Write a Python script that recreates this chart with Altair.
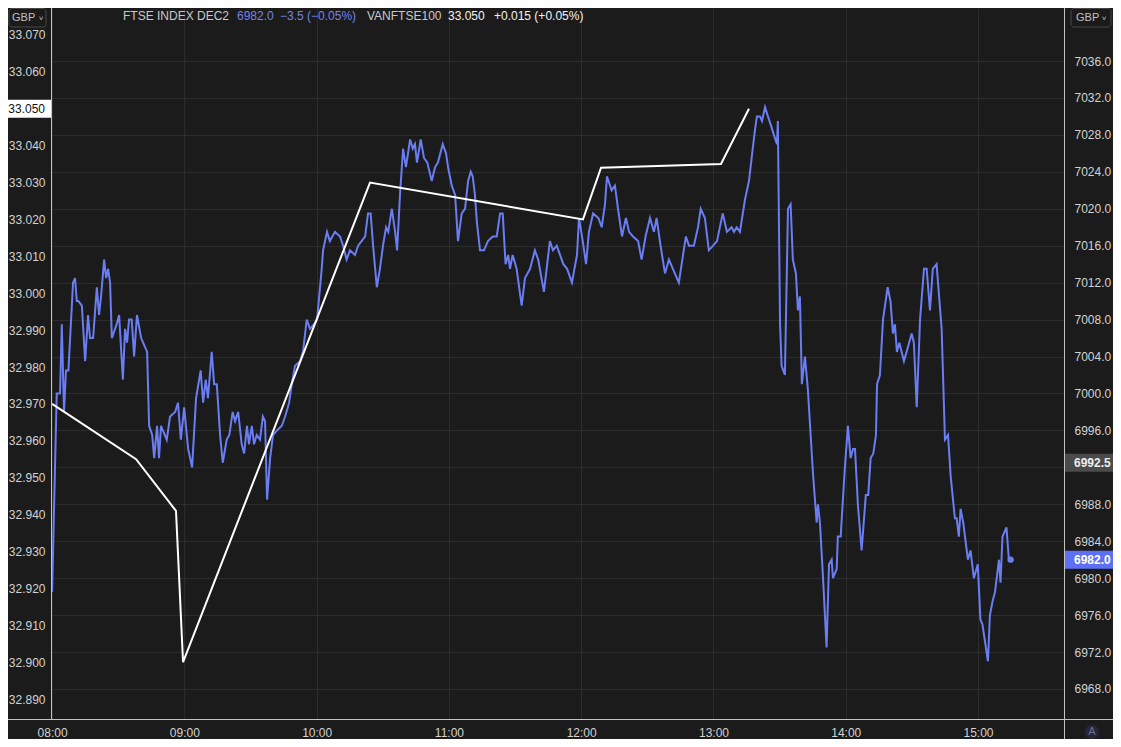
import altair as alt
import pandas as pd

# ---------------- data ----------------
# FTSE index future (right axis): minutes after 08:00 and price
fut_min = [
    0, 2.1, 3.6, 4.4, 5.4, 6.3, 7.4, 9.5, 10.4, 11.2,
    11.9, 13.5, 15.0, 16.3, 17.2, 18.6, 20.3, 21.3, 22.2, 23.6,
    24.5, 25.4, 26.3, 27.1, 29.3, 30.4, 32.1, 33.1, 34.0, 34.9,
    36.1, 37.2, 38.5, 40.4, 42.2, 43.1, 44.0, 45.4, 46.3, 47.6,
    48.5, 49.4, 52.0, 53.5, 55.8, 57.1, 58.4, 59.9, 61.7, 63.5,
    65.3, 67.4, 68.5, 69.7, 70.7, 72.4, 73.5, 74.7, 76.2, 77.4,
    79.2, 80.4, 81.9, 83.0, 84.4, 86.0, 87.1, 88.4, 89.3, 90.6,
    91.6, 92.8, 94.3, 95.6, 96.6, 97.5, 98.9, 100.2, 102.0, 104.2,
    105.7, 107.5, 108.7, 110.2, 112.5, 113.8, 115.5, 117.0, 118.8, 120.2,
    122.3, 122.9, 124.7, 126.0, 128.3, 130.6, 132.0, 133.6, 135.1, 137.4,
    138.8, 140.4, 142.0, 143.3, 144.5, 145.6, 147.3, 148.7, 150.1, 151.5,
    152.5, 154.1, 155.6, 156.5, 157.8, 159.2, 160.5, 162.4, 163.6, 164.6,
    165.5, 167.2, 168.7, 170.2, 172.2, 173.7, 175.0, 177.2, 178.7, 179.6,
    181.3, 182.8, 184.1, 185.8, 187.3, 188.7, 189.9, 190.8, 191.8, 192.7,
    194.1, 195.9, 197.7, 199.9, 201.7, 203.2, 204.4, 205.7, 206.9, 207.7,
    208.9, 210.7, 213.0, 214.5, 216.8, 219.0, 220.5, 223.1, 225.8, 227.2,
    228.9, 230.4, 231.9, 233.6, 235.8, 238.1, 239.0, 240.7, 242.2, 243.5,
    245.4, 247.8, 249.3, 250.8, 251.7, 253.8, 255.3, 256.7, 258.5, 260.3,
    261.7, 263.5, 265.8, 267.4, 269.2, 271.2, 273.0, 274.2, 276.0, 278.0,
    279.8, 281.6, 284.3, 286.2, 287.5, 288.9, 291.1, 293.0, 294.2, 296.1,
    297.9, 299.8, 301.6, 304.2, 306.1, 308.2, 309.3, 310.5, 312.0, 314.3,
    316.1, 317.8, 318.8, 319.7, 321.1, 322.0, 323.4, 324.7, 326.1, 327.4,
    328.8, 329.2, 330.2, 330.9, 332.4, 333.8, 335.0, 336.0, 337.4, 338.3,
    339.2, 340.1, 341.5, 342.8, 345.1, 346.8, 347.4, 348.3, 349.7, 351.3,
    352.4, 353.6, 354.2, 355.9, 356.4, 357.7, 359.6, 361.0, 362.2, 363.3,
    364.2, 365.5, 367.2, 369.1, 370.2, 371.3, 372.5, 373.7, 374.2, 375.5,
    376.9, 379.0, 380.3, 381.4, 382.3, 383.2, 384.3, 386.4, 388.2, 389.9,
    390.9, 392.2, 393.7, 395.5, 396.7, 398.2, 399.5, 401.2, 403.5, 405.0,
    406.4, 407.6, 409.5, 410.3, 411.3, 412.1, 413.3, 415.4, 416.6, 418.1,
    419.9, 421.1, 422.0, 424.5, 425.4, 426.6, 427.7, 429.5, 430.2, 431.1,
    432.9, 434.0, 434.8,
]
fut_price = [
    6978.5, 7000, 7000, 7007.5, 6998, 7002.5, 7002.5, 7012, 7012.5, 7010,
    7010, 7009.5, 7003.5, 7008.5, 7006, 7006, 7011.5, 7008.5, 7010.5, 7014.5,
    7012.5, 7013.5, 7012, 7006, 7007.5, 7008.5, 7001.5, 7007, 7005.5, 7008,
    7008, 7004, 7008.5, 7006, 7005, 7004.5, 6996.5, 6995.5, 6993, 6996.5,
    6993, 6996.5, 6995, 6997.5, 6998, 6999, 6995, 6998.5, 6994, 6992,
    6999.5, 7002.5, 6999, 7001.5, 6999.5, 7004.5, 7001, 7001, 6995.5, 6992.5,
    6995, 6995.5, 6998, 6997, 6998, 6994.5, 6993.5, 6996.5, 6994.5, 6996.5,
    6994.5, 6995.5, 6995, 6997.5, 6997, 6988.5, 6993, 6995.5, 6996, 6996.5,
    6997.5, 6999, 7001, 7003, 7003.5, 7004.5, 7008, 7007, 7007.5, 7008,
    7013.5, 7015.5, 7017.5, 7016.5, 7017.5, 7017, 7016, 7014.5, 7015.5, 7015,
    7016, 7016.5, 7017, 7019.5, 7019.5, 7016, 7011.5, 7013.5, 7016, 7018,
    7017.5, 7020, 7017.5, 7015.5, 7021.5, 7026.5, 7024.5, 7027.5, 7026.5, 7027,
    7025, 7027.5, 7025.5, 7025, 7023, 7024.5, 7025, 7027, 7026, 7024.5,
    7022.5, 7021.5, 7016.5, 7019.5, 7020, 7023, 7024, 7023.5, 7021.5, 7018.5,
    7015.5, 7015.5, 7016.5, 7017, 7017, 7019.5, 7019.5, 7014, 7015, 7013.5,
    7015, 7013.5, 7009.5, 7012.5, 7013.5, 7015.5, 7014.5, 7011, 7016.5, 7015.5,
    7016, 7015, 7014, 7013.5, 7012, 7015, 7019, 7016.5, 7014, 7017.5,
    7019.5, 7019, 7018, 7020.5, 7023.5, 7022, 7022.5, 7020, 7017, 7019,
    7017.5, 7017, 7016.5, 7014.5, 7017, 7019, 7017.5, 7019, 7016, 7013,
    7014.5, 7013.5, 7012, 7015, 7017, 7016, 7016, 7018, 7020, 7019,
    7015.5, 7016, 7016.5, 7019.5, 7017.5, 7018, 7017.5, 7018, 7017.5, 7021,
    7023, 7026.5, 7028.5, 7030, 7030, 7029.5, 7031, 7030, 7029, 7028,
    7027, 7029.5, 7007.5, 7003, 7002, 7020, 7020.5, 7014.5, 7013, 7009,
    7010.5, 7001, 7004, 7000.5, 6991.5, 6986, 6988, 6986, 6980, 6972.5,
    6981.5, 6982, 6980, 6981, 6984.5, 6984.5, 6992, 6996.5, 6993, 6994,
    6994, 6988, 6983, 6989, 6989, 6993, 6993.5, 6995.5, 7001, 7002,
    7008, 7011.5, 7010, 7006.5, 7007.5, 7004.5, 7005.5, 7003.5, 7005, 7006.5,
    7005.5, 6998.5, 7008, 7013.5, 7013.5, 7009, 7013.5, 7014, 7007, 6995,
    6995.5, 6991, 6986.5, 6986.5, 6984.5, 6987.5, 6986, 6982, 6983, 6980,
    6981.5, 6975.5, 6975, 6971, 6976, 6977.5, 6978.5, 6982, 6979.5, 6984.5,
    6985.5, 6982, 6982,
]
# VANFTSE100 trades (left axis)
van_min = [0, 38.1, 56.2, 59.4, 144.2, 240.8, 249.0, 303.4, 316.1]
van_price = [32.970, 32.955, 32.941, 32.900, 33.030, 33.020, 33.034, 33.035, 33.050]

ref_price = 6992.5
hour_ticks = [0, 60, 120, 180, 240, 300, 360, 420]
left_ticks = [32.89, 32.90, 32.91, 32.92, 32.93, 32.94, 32.95, 32.96, 32.97, 32.98,
              32.99, 33.00, 33.01, 33.02, 33.03, 33.04, 33.05, 33.06, 33.07]
right_ticks = [6968, 6972, 6976, 6980, 6984, 6988, 6992, 6996, 7000, 7004,
               7008, 7012, 7016, 7020, 7024, 7028, 7032, 7036]

# ---------------- style ----------------
BG = "#1b1b1b"
GRID = "#2c2c2c"
TXT = "#d2d2d2"
BLUE = "#6a7df2"
LINEC = "#c4c4c4"
W, H = 1013, 711
PAD = {"left": 43, "top": 0, "right": 49, "bottom": 20}

fut = pd.DataFrame({"m": fut_min, "price": fut_price})
van = pd.DataFrame({"m": van_min, "price": van_price})
one = alt.Data(values=[{"a": 1}])

x_scale = alt.Scale(domain=[-0.5, 459], nice=False, zero=False)
x_axis = alt.Axis(values=hour_ticks,
                  labelExpr="(datum.value < 120 ? '0' : '') + (8 + datum.value / 60) + ':00'",
                  grid=True, gridColor=GRID, domain=False, ticks=False,
                  labelColor=TXT, labelFontSize=12, labelPadding=8, title=None,
                  labelOverlap=False)

left_scale = alt.Scale(domain=[32.8846, 33.0773], nice=False, zero=False)
left_axis = alt.Axis(orient="left", values=left_ticks,
                     labelExpr="abs(datum.value - 33.05) < 0.0005 ? '' : format(datum.value, '.3f')",
                     grid=False, ticks=False, domain=False, labelColor=TXT,
                     labelFontSize=12, labelPadding=6, title=None, labelOverlap=False)

right_scale = alt.Scale(domain=[6964.75, 7041.74], nice=False, zero=False)
right_axis = alt.Axis(orient="right", values=right_ticks,
                      labelExpr="datum.value == 6992 ? '' : format(datum.value, '.1f')",
                      grid=True, gridColor=GRID, ticks=False, domain=False,
                      labelColor=TXT, labelFontSize=12, labelPadding=10, title=None,
                      labelOverlap=False)


def badge_shape(half_h_units):
    h = half_h_units
    return f"M-1,-{h}L1,-{h}L1,{h}L-1,{h}Z"


X = alt.X("m:Q", scale=x_scale, axis=x_axis)
YR = alt.Y("price:Q", scale=right_scale, axis=right_axis)
YL = alt.Y("price:Q", scale=left_scale, axis=left_axis)

# right-axis layer (FTSE future)
blue_line = alt.Chart(fut).mark_line(color=BLUE, strokeWidth=2).encode(x=X, y=YR)
end_dot = alt.Chart(fut.tail(1)).mark_circle(color=BLUE, size=40, opacity=1).encode(x=X, y=YR)

ref_df = pd.DataFrame({"price": [ref_price]})
last_df = fut.tail(1)[["price"]]
ref_box = alt.Chart(ref_df).mark_point(shape=badge_shape(0.367), size=2401, filled=True,
                                       fill="#4b4b4b", strokeWidth=0, opacity=1).encode(
    x=alt.value(1037.5), y=YR)
ref_txt = alt.Chart(ref_df).mark_text(align="left", baseline="middle", fontSize=12,
                                      fontWeight="bold", color="#ededed").encode(
    x=alt.value(1023), y=YR, text=alt.Text("price:Q", format=".1f"))
last_box = alt.Chart(last_df).mark_point(shape=badge_shape(0.367), size=2401, filled=True,
                                         fill="#5d70f4", strokeWidth=0, opacity=1).encode(
    x=alt.value(1037.5), y=YR)
last_txt = alt.Chart(last_df).mark_text(align="left", baseline="middle", fontSize=12,
                                        fontWeight="bold", color="#ffffff").encode(
    x=alt.value(1023), y=YR, text=alt.Text("price:Q", format=".1f"))

right_layer = alt.layer(blue_line, end_dot, ref_box, ref_txt, last_box, last_txt)

# left-axis layer (VANFTSE100)
white_line = alt.Chart(van).mark_line(color="#ffffff", strokeWidth=2).encode(
    x=alt.X("m:Q", scale=x_scale, axis=x_axis), y=YL)
van_last = pd.DataFrame({"price": [van_price[-1]]})
van_box = alt.Chart(van_last).mark_point(shape=badge_shape(0.4186), size=1849, filled=True,
                                         fill="#ffffff", strokeWidth=0, opacity=1).encode(
    x=alt.value(-21.5), y=YL)
van_txt = alt.Chart(van_last).mark_text(align="right", baseline="middle", fontSize=12,
                                        color="#111111").encode(
    x=alt.value(-6), y=YL, text=alt.Text("price:Q", format=".3f"))
left_layer = alt.layer(white_line, van_box, van_txt)


# decorations
def rule(x, x2, y, y2, color=LINEC):
    return alt.Chart(one).mark_rule(color=color, strokeWidth=1).encode(
        x=alt.value(x), x2=alt.value(x2), y=alt.value(y), y2=alt.value(y2))


def label(text, x, y, color, size=12, align="left", weight="normal"):
    return alt.Chart(one).mark_text(text=text, align=align, baseline="middle",
                                    fontSize=size, color=color, fontWeight=weight).encode(
        x=alt.value(x), y=alt.value(y))


def button(x, x2, y, y2):
    return alt.Chart(one).mark_rect(cornerRadius=3, fill=BG, stroke="#474747",
                                    strokeWidth=1).encode(
        x=alt.value(x), x2=alt.value(x2), y=alt.value(y), y2=alt.value(y2))


a_circle = alt.Chart(one).mark_circle(color="#272837", size=200, opacity=1).encode(
    x=alt.value(1041), y=alt.value(724))

decor = [
    rule(-43, 1062, 711.5, 711.5),
    rule(0.5, 0.5, 0, 711),
    rule(1013.5, 1013.5, 0, 731),
    label("FTSE INDEX DEC2", 72, 8, "#c8c8c8"),
    label("6982.0", 186, 8, "#7383e6"),
    label("\u22123.5 (\u22120.05%)", 229, 8, "#7383e6"),
    label("VANFTSE100", 316, 8, "#c8c8c8"),
    label("33.050", 397, 8, "#f2f2f2"),
    label("+0.015 (+0.05%)", 443, 8, "#f2f2f2"),
    button(-42, -5, 0.5, 19),
    label("GBP", -39, 10, "#c0c0c0", size=11),
    label("\u02c5", -10, 11, "#c0c0c0", size=8, align="center"),
    button(1020, 1060, 0.5, 19),
    label("GBP", 1025, 10, "#c0c0c0", size=11),
    label("\u02c5", 1053, 11, "#c0c0c0", size=8, align="center"),
    a_circle,
    label("A", 1041, 724, "#6d7090", size=11, align="center"),
]

chart = alt.layer(right_layer, left_layer, *decor).resolve_scale(y="independent").properties(
    width=W, height=H, padding=PAD, autosize=alt.AutoSizeParams(type="none")
).configure(background=BG, font="Liberation Sans").configure_view(stroke=None).configure_axis(
    labelFont="Liberation Sans")

chart.save("out.html", embed_options={"renderer": "svg", "actions": False})
